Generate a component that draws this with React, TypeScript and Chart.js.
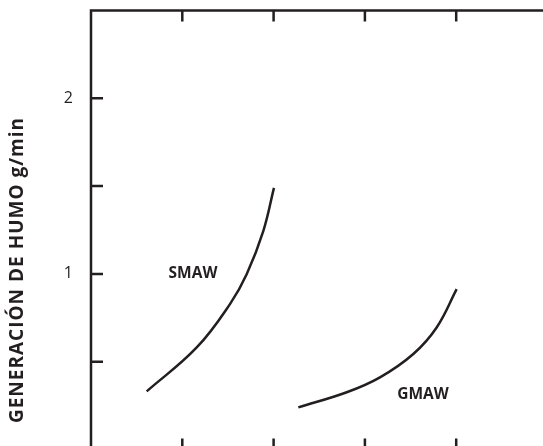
import React, { useEffect, useRef } from "react";
import { Chart, registerables } from "chart.js";

Chart.register(...registerables);

const X_TICKS = [1, 2, 3, 4];
const Y_TICKS = [0.5, 1, 1.5, 2];
const Y_LABELED = [1, 2];
const SMAW_X = [0.61, 1.158, 1.522, 1.705, 1.887, 2.004];
const SMAW_Y = [0.331, 0.581, 0.828, 0.998, 1.244, 1.49];
const GMAW_X = [2.271, 2.801, 3.165, 3.53, 3.786, 4.005];
const GMAW_Y = [0.24, 0.326, 0.411, 0.544, 0.695, 0.913];
const CURVE_LABELS = ["SMAW", "GMAW"];
const LABEL_X = [1.117, 3.636];
const LABEL_Y = [1.003, 0.315];
const Y_TITLE = "GENERACIÓN DE HUMO g/min";

const INK = "#231f20";
const FONT = "'Open Sans', 'Noto Sans', sans-serif";

export default function App() {
  const ref = useRef<HTMLCanvasElement | null>(null);

  useEffect(() => {
    const canvas = ref.current!;
    const framePlugin = {
      id: "frame",
      afterDraw(chart: any) {
        const { ctx, chartArea } = chart;
        const xs = chart.scales.x;
        const ys = chart.scales.y;
        ctx.save();
        ctx.strokeStyle = INK;
        ctx.lineWidth = 2.5;
        ctx.lineCap = "butt";
        ctx.beginPath();
        ctx.moveTo(chartArea.left, chartArea.bottom);
        ctx.lineTo(chartArea.left, chartArea.top);
        ctx.lineTo(chartArea.right, chartArea.top);
        ctx.lineTo(chartArea.right, chartArea.bottom);
        ctx.closePath();
        ctx.stroke();
        ctx.beginPath();
        for (const t of X_TICKS) {
          const px = xs.getPixelForValue(t);
          ctx.moveTo(px, chartArea.top);
          ctx.lineTo(px, chartArea.top + 11);
          ctx.moveTo(px, chartArea.bottom);
          ctx.lineTo(px, chartArea.bottom - 11);
        }
        for (const t of Y_TICKS) {
          const py = ys.getPixelForValue(t);
          ctx.moveTo(chartArea.left, py);
          ctx.lineTo(chartArea.left + 12, py);
        }
        ctx.stroke();
        ctx.fillStyle = INK;
        ctx.textAlign = "center";
        ctx.textBaseline = "middle";
        ctx.font = `bold 15.5px ${FONT}`;
        CURVE_LABELS.forEach((s, i) => {
          ctx.fillText(s, xs.getPixelForValue(LABEL_X[i]), ys.getPixelForValue(LABEL_Y[i]));
        });
        ctx.translate(18, 270);
        ctx.rotate(-Math.PI / 2);
        ctx.font = `bold 19px ${FONT}`;
        try {
          (ctx as any).letterSpacing = "1px";
        } catch (e) {}
        ctx.fillText(Y_TITLE, 0, 0);
        ctx.restore();
      },
    };

    const chart = new Chart(canvas, {
      type: "line",
      data: {
        datasets: [
          {
            label: "SMAW",
            data: SMAW_X.map((x, i) => ({ x, y: SMAW_Y[i] })),
            borderColor: INK,
            borderWidth: 2.5,
            pointRadius: 0,
            tension: 0.4,
            fill: false,
          },
          {
            label: "GMAW",
            data: GMAW_X.map((x, i) => ({ x, y: GMAW_Y[i] })),
            borderColor: INK,
            borderWidth: 2.5,
            pointRadius: 0,
            tension: 0.4,
            fill: false,
          },
        ],
      },
      options: {
        animation: false,
        responsive: false,
        devicePixelRatio: 1,
        layout: { padding: { left: 0, top: 10.5, right: 12.5, bottom: 20.5 } },
        plugins: { legend: { display: false }, tooltip: { enabled: false } },
        scales: {
          x: { type: "linear", min: 0, max: 5, display: false },
          y: {
            type: "linear",
            min: 0,
            max: 2.5,
            afterFit: (s: any) => {
              s.width = 91;
            },
            grid: {
              display: true,
              drawOnChartArea: false,
              drawTicks: true,
              tickLength: 18,
              tickColor: "rgba(0,0,0,0)",
              color: "rgba(0,0,0,0)",
            },
            border: { display: false },
            ticks: {
              stepSize: 0.5,
              padding: 0,
              color: INK,
              font: { family: FONT, size: 16 },
              callback: (v: any) => (Y_LABELED.includes(Number(v)) ? String(v) : ""),
            },
          },
        },
      },
      plugins: [framePlugin],
    } as any);
    return () => chart.destroy();
  }, []);

  return (
    <div
      style={{
        position: "fixed",
        left: 0,
        top: 0,
        width: 543,
        height: 446,
        overflow: "hidden",
        background: "#fff",
      }}
    >
      <canvas ref={ref} width={560} height={470} style={{ width: 560, height: 470, display: "block" }} />
    </div>
  );
}
